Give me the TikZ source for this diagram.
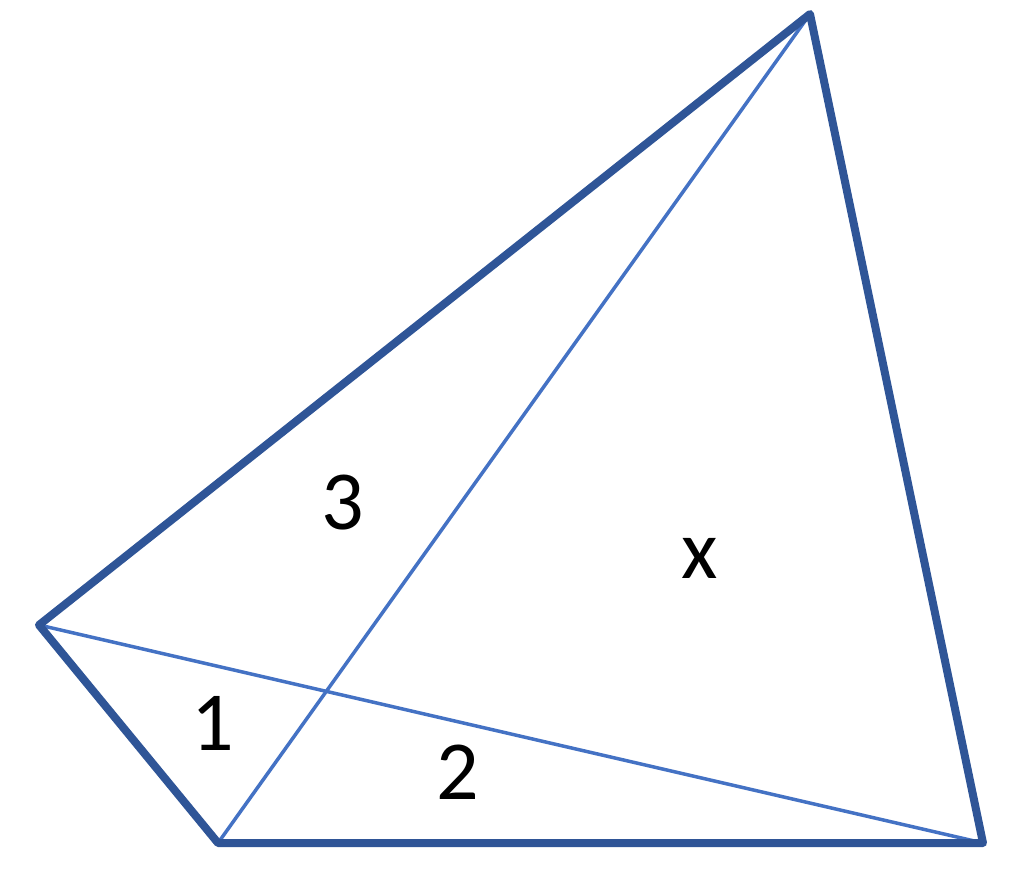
\documentclass[tikz,border=0pt]{standalone}
\usepackage{fontspec}
\setmainfont{Carlito}
\definecolor{outerblue}{HTML}{2F5597}
\definecolor{innerblue}{HTML}{4472C4}
\tikzset{
  outeredge/.style={draw=outerblue, line width=8pt, line join=round, line cap=round},
  diagonal/.style={draw=innerblue, line width=3.5pt, line cap=round},
  lbl/.style={inner sep=0pt, font=\fontsize{84}{90}\selectfont, text=black}
}
\begin{document}
\begin{tikzpicture}[x=1pt,y=-1pt]
\useasboundingbox (0,0) rectangle (1024,869);
\coordinate (L) at (39,625);
\coordinate (BL) at (218,843);
\coordinate (BR) at (983,843);
\coordinate (T) at (810,14);
\draw[diagonal] (T) -- (BL);
\draw[diagonal] (L) -- (BR);
\draw[outeredge] (L) -- (BL) -- (BR) -- (T) -- cycle;
\node[lbl] (n3) at (343,503) {3};
\node[lbl] (nx) at (700,558) {x};
\node[lbl] (n1) at (213,723) {1};
\node[lbl] (n2) at (458,772) {2};
\end{tikzpicture}
\end{document}
